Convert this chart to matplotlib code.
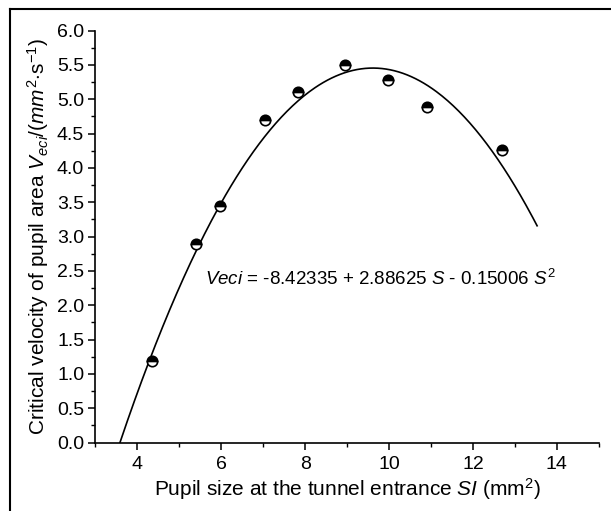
import numpy as np
import matplotlib
matplotlib.use("Agg")
import matplotlib.pyplot as plt
from matplotlib.lines import Line2D
from matplotlib.ticker import MultipleLocator, FormatStrFormatter

# measured points
pupil_size = [4.35, 5.39, 5.97, 7.04, 7.83, 8.94, 9.98, 10.91, 12.70]
velocity = [1.19, 2.89, 3.45, 4.70, 5.11, 5.50, 5.28, 4.89, 4.26]

# quadratic fit coefficients
coef = [-8.42335, 2.88625, -0.15006]
fit_range = [3.57, 13.53]

plt.rcParams['font.family'] = ['Liberation Sans', 'DejaVu Sans']
plt.rcParams['mathtext.fontset'] = 'custom'
plt.rcParams['mathtext.rm'] = 'Liberation Sans'
plt.rcParams['mathtext.it'] = 'Liberation Sans:italic'

fig = plt.figure(figsize=(6.11, 5.11), dpi=100)
ax = fig.add_axes([0.156, 0.134, 0.824, 0.806])

s = np.linspace(fit_range[0], fit_range[1], 300)
ax.plot(s, coef[0] + coef[1] * s + coef[2] * s ** 2, color='black', lw=1.2)

ax.plot(pupil_size, velocity, linestyle='none', marker='o', markersize=7.5,
        fillstyle='top', markerfacecolor='black', markerfacecoloralt='white',
        markeredgecolor='black', markeredgewidth=1.2)

ax.set_xlim(3, 15)
ax.set_ylim(0, 6)
ax.xaxis.set_major_locator(MultipleLocator(2))
ax.xaxis.set_minor_locator(MultipleLocator(1))
ax.yaxis.set_major_locator(MultipleLocator(0.5))
ax.yaxis.set_minor_locator(MultipleLocator(0.25))
ax.yaxis.set_major_formatter(FormatStrFormatter('%.1f'))

for side in ['top', 'right']:
    ax.spines[side].set_visible(False)
for side in ['left', 'bottom']:
    ax.spines[side].set_linewidth(1.2)

ax.tick_params(which='major', direction='out', length=5, width=1.1)
ax.tick_params(which='minor', direction='out', length=3, width=1.0)
ax.tick_params(axis='x', labelsize=14, pad=5)
ax.tick_params(axis='y', labelsize=14, pad=3)

ax.set_xlabel(r'Pupil size at the tunnel entrance $\mathit{SI}$ (mm$^2$)', fontsize=15, labelpad=2)
ax.set_ylabel(r'Critical velocity of pupil area $\mathit{V}_{\mathit{eci}}$/($\mathit{mm}^2$$\cdot$s$^{-1}$)',
              fontsize=15, labelpad=4)

ax.text(5.62, 2.39, r'$\mathit{Veci}$ = -8.42335 + 2.88625 $\mathit{S}$ - 0.15006 $\mathit{S}^2$',
        fontsize=13.5, va='center', ha='left')

# frame lines along top and left edge of the picture
fig.add_artist(Line2D([0.017, 0.017], [0.0, 0.982], transform=fig.transFigure, color='black', lw=1.5))
fig.add_artist(Line2D([0.017, 1.0], [0.982, 0.982], transform=fig.transFigure, color='black', lw=1.5))

fig.savefig('out.png', dpi=100)
